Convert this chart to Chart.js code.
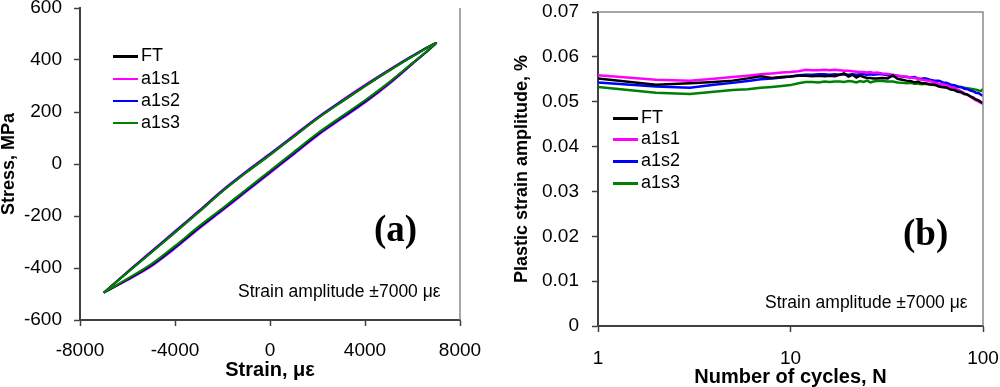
<!DOCTYPE html>
<html>
<head>
<meta charset="utf-8">
<script src="https://cdn.jsdelivr.net/npm/chart.js@4/dist/chart.umd.min.js"></script>
<style>
  body { margin: 0; background: #fff; }
  #wrap { position: relative; width: 1000px; height: 387px; font-family: "Liberation Sans", Arial, sans-serif; }
  .panel { position: absolute; top: 0; width: 500px; height: 387px; }
  .txt { position: absolute; white-space: nowrap; color: #000; line-height: 1; }
  .leg { position: absolute; font-size: 18px; line-height: 1; white-space: nowrap; }
  .leg span.ln { display: inline-block; width: 25px; vertical-align: middle; margin-right: 3px; }
  .tag { position: absolute; font-family: "Liberation Serif", "Times New Roman", serif; font-weight: bold; font-size: 37px; line-height: 1; }
</style>
</head>
<body>
<div id="wrap">
  <div class="panel" style="left:0"><canvas id="chartA"></canvas></div>
  <div class="panel" style="left:500px"><canvas id="chartB"></canvas></div>
</div>
<script>
// ---- data, panel (a): stabilised hysteresis loops ----
// strain path: loading branch -7000 -> 7000, then unloading 6000 -> -7000
const strainLoop = [-7000, -6000, -5000, -4000, -3000, -2000, -1000, 0, 1000, 2000, 3000, 4000, 5000, 6000, 7000,
  6000, 5000, 4000, 3000, 2000, 1000, 0, -1000, -2000, -3000, -4000, -5000, -6000, -7000];
const stressFT = [-495, -417, -340, -263, -185, -105, -33, 35, 105, 175, 238, 299, 358, 414, 465,
  388, 312, 243, 180, 116, 44, -28, -100, -172, -243, -318, -388, -443, -495];
const stressA1s1 = [-495, -414, -336, -258, -180, -100, -28, 40, 110, 180, 243, 304, 362, 417, 465,
  385, 306, 236, 173, 109, 37, -35, -107, -179, -250, -325, -394, -447, -495];
const stressA1s2 = [-495, -415, -338, -260, -182, -102, -30, 38, 108, 178, 241, 302, 360, 416, 465,
  386, 309, 239, 176, 112, 40, -32, -104, -176, -247, -322, -391, -445, -495];
const stressA1s3 = [-495, -417, -340, -263, -185, -105, -33, 35, 105, 175, 238, 299, 358, 414, 465,
  388, 313, 245, 182, 118, 46, -26, -98, -170, -240, -315, -385, -441, -495];
const xTicksA = [-8000, -4000, 0, 4000, 8000];
const yTicksA = [-600, -400, -200, 0, 200, 400, 600];

// ---- data, panel (b): plastic strain amplitude vs cycles ----
const cycles = [1, 2, 3, 4, 5, 6, 7, 8, 9, 10, 11, 12, 13, 14, 15, 16, 17, 18, 19, 20, 21, 22, 23, 24, 25, 26, 27, 28,
  30, 32, 34, 36, 38, 40, 42, 44, 46, 48, 50, 53, 56, 59, 62, 65, 68, 71, 74, 77, 80, 83, 86, 89, 92, 95, 98, 100];
const epFT = [0.0552, 0.0538, 0.0541, 0.0544, 0.0547, 0.0552, 0.0557, 0.0553, 0.0555, 0.0556, 0.0558, 0.0558, 0.0557, 0.0558,
  0.0557, 0.0558, 0.0557, 0.0560, 0.0563, 0.0556, 0.0560, 0.0554, 0.0558, 0.0555, 0.0553, 0.0553, 0.0552, 0.0552,
  0.0553, 0.0552, 0.0559, 0.0551, 0.0549, 0.0547, 0.0546, 0.0543, 0.0545, 0.0541, 0.0541, 0.0539, 0.0538, 0.0534,
  0.0532, 0.0531, 0.0527, 0.0526, 0.0522, 0.0521, 0.0517, 0.0516, 0.0512, 0.0509, 0.0505, 0.0503, 0.0499, 0.0497];
const epA1s1 = [0.0559, 0.0549, 0.0547, 0.0551, 0.0555, 0.0558, 0.0561, 0.0563, 0.0565, 0.0566, 0.0568, 0.0571, 0.0570, 0.0570,
  0.0571, 0.0570, 0.0571, 0.0570, 0.0569, 0.0569, 0.0568, 0.0567, 0.0566, 0.0566, 0.0565, 0.0566, 0.0564, 0.0565,
  0.0563, 0.0562, 0.0560, 0.0558, 0.0557, 0.0556, 0.0554, 0.0553, 0.0551, 0.0549, 0.0548, 0.0546, 0.0543, 0.0540,
  0.0538, 0.0536, 0.0533, 0.0531, 0.0527, 0.0523, 0.0519, 0.0515, 0.0511, 0.0507, 0.0503, 0.0500, 0.0497, 0.0495];
const epA1s2 = [0.0543, 0.0534, 0.0531, 0.0538, 0.0542, 0.0546, 0.0550, 0.0552, 0.0554, 0.0556, 0.0559, 0.0560, 0.0560, 0.0561,
  0.0561, 0.0560, 0.0561, 0.0560, 0.0561, 0.0560, 0.0561, 0.0560, 0.0561, 0.0561, 0.0560, 0.0561, 0.0560, 0.0561,
  0.0561, 0.0559, 0.0557, 0.0558, 0.0556, 0.0555, 0.0554, 0.0555, 0.0552, 0.0551, 0.0552, 0.0549, 0.0547, 0.0547,
  0.0543, 0.0542, 0.0538, 0.0537, 0.0534, 0.0533, 0.0529, 0.0528, 0.0525, 0.0523, 0.0520, 0.0519, 0.0515, 0.0513];
const epA1s3 = [0.0533, 0.0520, 0.0517, 0.0522, 0.0526, 0.0528, 0.0531, 0.0533, 0.0535, 0.0537, 0.0541, 0.0544, 0.0544, 0.0543,
  0.0545, 0.0544, 0.0545, 0.0545, 0.0544, 0.0546, 0.0545, 0.0543, 0.0546, 0.0544, 0.0547, 0.0543, 0.0545, 0.0546,
  0.0546, 0.0545, 0.0545, 0.0543, 0.0542, 0.0541, 0.0542, 0.0540, 0.0540, 0.0539, 0.0540, 0.0538, 0.0537, 0.0538,
  0.0536, 0.0536, 0.0535, 0.0535, 0.0533, 0.0532, 0.0531, 0.0530, 0.0529, 0.0528, 0.0527, 0.0525, 0.0524, 0.0529];
const xTicksB = [1, 10, 100];
const yTicksB = [0, 0.01, 0.02, 0.03, 0.04, 0.05, 0.06, 0.07];

const seriesNames = ['FT', 'a1s1', 'a1s2', 'a1s3'];
const seriesColors = ['#000000', '#ff00ff', '#0000ff', '#008000'];

const FONT = '"Liberation Sans", Arial, sans-serif';
const TICK_SIZE = 19;

function pts(xs, ys) {
  return xs.map((x, i) => ({ x: x, y: ys[i] }));
}

// draws the grey right (and optionally top) frame lines
const framePlugin = {
  id: 'frame',
  afterDraw(chart, args, opts) {
    const { ctx, chartArea: a } = chart;
    ctx.save();
    ctx.strokeStyle = '#8a8a8a';
    ctx.lineWidth = 1.5;
    ctx.beginPath();
    ctx.moveTo(a.right, a.bottom);
    ctx.lineTo(a.right, a.top);
    if (opts.top) ctx.lineTo(a.left, a.top);
    ctx.stroke();
    ctx.restore();
  }
};

function axisOpts(ticks, size, tickPad, fmt, title, titleSize, titlePad, extra) {
  return Object.assign({
    afterBuildTicks: s => { s.ticks = ticks.map(v => ({ value: v })); },
    afterFit: s => {
      if (s.isHorizontal()) { s.height = size; s.paddingLeft = 0; s.paddingRight = 0; }
      else { s.width = size; s.paddingTop = 0; s.paddingBottom = 0; }
    },
    border: { display: true, color: '#404040', width: 2 },
    grid: { drawOnChartArea: false, drawTicks: true, tickLength: 6, color: '#404040', tickWidth: 1.5 },
    ticks: { color: '#000', font: { family: FONT, size: TICK_SIZE }, padding: tickPad, maxRotation: 0, autoSkip: false, callback: fmt },
    title: { display: true, text: title, color: '#000', font: { family: FONT, size: titleSize, weight: 'bold', lineHeight: 1 }, padding: titlePad }
  }, extra);
}

// ---- panel (a) ----
new Chart(document.getElementById('chartA'), {
  type: 'scatter',
  data: {
    datasets: [stressFT, stressA1s1, stressA1s2, stressA1s3].map((ys, i) => ({
      label: seriesNames[i],
      data: pts(strainLoop, ys),
      showLine: true,
      borderColor: seriesColors[i],
      borderWidth: 2,
      pointRadius: 0,
      tension: 0.3,
      order: [2, 4, 3, 1][i]
    }))
  },
  options: {
    responsive: true,
    maintainAspectRatio: false,
    animation: false,
    layout: { padding: { top: 8, right: 40, left: 0, bottom: 0 } },
    plugins: { legend: { display: false }, tooltip: { enabled: false }, frame: { top: false } },
    scales: {
      x: axisOpts(xTicksA, 67, 13, v => String(v), 'Strain, με', 20, { top: 0, bottom: 7 }, { type: 'linear', min: -8000, max: 8000 }),
      y: axisOpts(yTicksA, 80, 12, v => String(v), 'Stress, MPa', 18, { top: 0, bottom: 0 }, { type: 'linear', min: -600, max: 600 })
    }
  },
  plugins: [framePlugin]
});

// ---- panel (b) ----
new Chart(document.getElementById('chartB'), {
  type: 'scatter',
  data: {
    datasets: [epFT, epA1s1, epA1s2, epA1s3].map((ys, i) => ({
      label: seriesNames[i],
      data: pts(cycles, ys),
      showLine: true,
      borderColor: seriesColors[i],
      borderWidth: 2.5,
      pointRadius: 0,
      tension: 0,
      order: [1, 2, 3, 4][i]
    }))
  },
  options: {
    responsive: true,
    maintainAspectRatio: false,
    animation: false,
    layout: { padding: { top: 12, right: 17, left: 0, bottom: 0 } },
    plugins: { legend: { display: false }, tooltip: { enabled: false }, frame: { top: true } },
    scales: {
      x: axisOpts(xTicksB, 61, 15, v => String(v), 'Number of cycles, N', 20, { top: 0, bottom: 0 },
        { type: 'logarithmic', min: 1, max: 100 }),
      y: axisOpts(yTicksB, 98, 13, v => (v === 0 ? '0' : v.toFixed(2)), 'Plastic strain amplitude, %', 18, { top: 13, bottom: 0 },
        { type: 'linear', min: 0, max: 0.07 })
    }
  },
  plugins: [framePlugin]
});

// ---- overlay texts: legends, annotations, panel tags ----
const wrap = document.getElementById('wrap');
function addText(html, cls, left, top, style) {
  const d = document.createElement('div');
  d.className = cls;
  d.innerHTML = html;
  d.style.left = left + 'px';
  d.style.top = top + 'px';
  if (style) d.style.cssText += style;
  wrap.appendChild(d);
}
function addLegend(left, tops, widths) {
  seriesNames.forEach((n, i) => {
    const line = '<span class="ln" style="height:0;border-top:' + widths[i] + 'px solid ' + seriesColors[i] + '"></span>';
    addText(line + n, 'leg', left, tops[i] - 9);
  });
}
addLegend(113, [55, 78, 100, 122], [3, 2, 2, 2]);
addLegend(613, [117, 138, 160, 182], [3, 3, 3, 3]);
addText('Strain amplitude ±7000 με', 'txt', 238, 283, 'font-size:17.5px');
addText('Strain amplitude ±7000 με', 'txt', 765, 294, 'font-size:17.5px');
addText('(a)', 'tag', 374, 210);
addText('(b)', 'tag', 903, 214);
</script>
</body>
</html>
